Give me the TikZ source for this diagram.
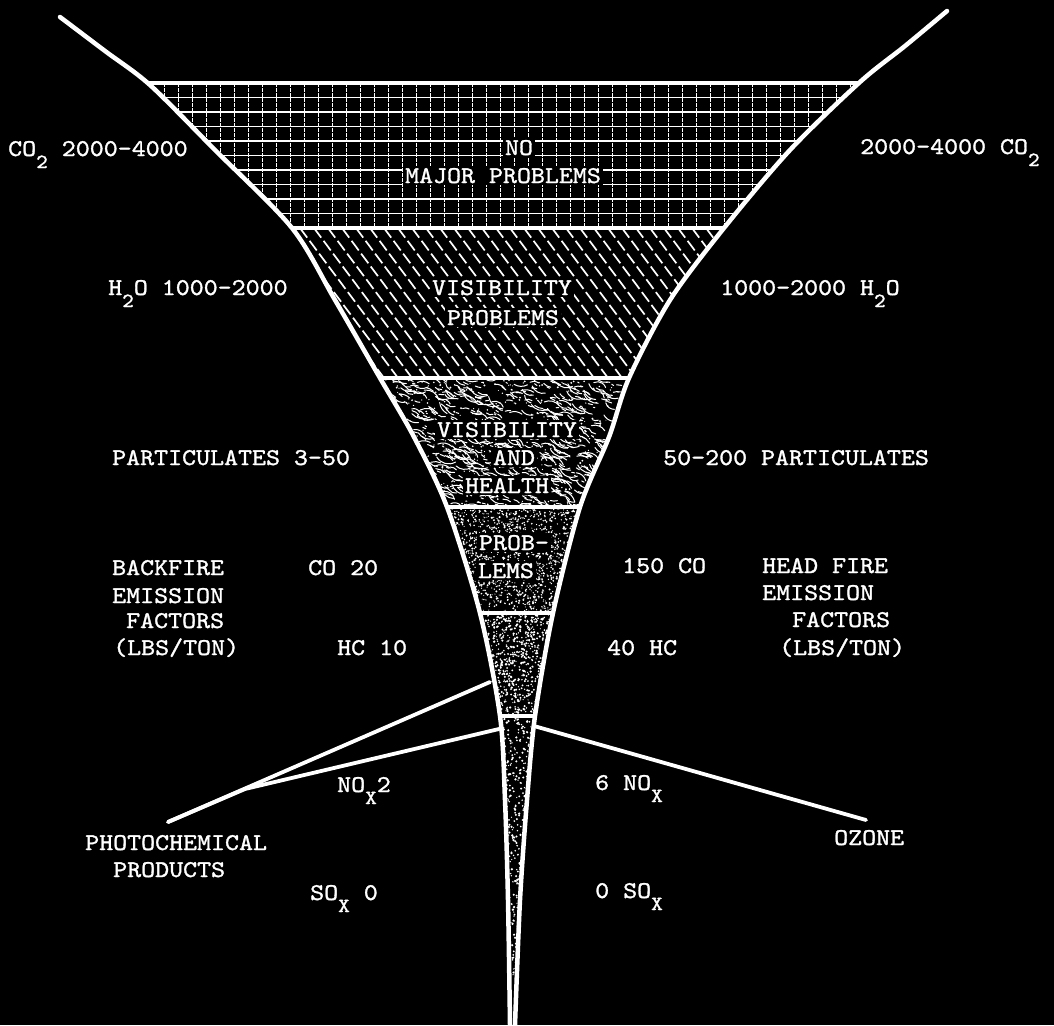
\documentclass[tikz,border=0pt]{standalone}
\usepackage{fontspec}
\setmonofont{lmmono10-regular.otf}[FakeStretch=1.11,FakeBold=1.3]
\newcommand\labfont{\ttfamily\fontsize{24}{24}\selectfont}
\newcommand\dnx[1]{\raisebox{-12pt}{\fontsize{20}{20}\selectfont #1}}
\begin{document}
\begin{tikzpicture}[x=1pt,y=-1pt,
  txt/.style={text=white,font=\labfont,inner sep=0pt,anchor=base west},
  inlab/.style={text=white,font=\labfont,fill=black,inner sep=2pt,anchor=base},
  edgeline/.style={white,line width=4.5pt,line cap=round,line join=round},
  bandline/.style={white,line width=4pt},
  conn/.style={white,line width=3.8pt,line cap=round,line join=round},
  gridh/.style={white,line width=1.7pt},
  gridv/.style={white,line width=0.8pt,dash pattern=on 4pt off 1pt},
  hatch/.style={white,line width=1.7pt,dash pattern=on 12pt off 4pt},
  squig/.style={white,line width=1pt,line cap=round},
  dot/.style={white}
]
\useasboundingbox (0,0) rectangle (1054,1025);
\fill[black] (0,0) rectangle (1054,1025);

\pgfmathsetseed{12345}
\begin{scope}
  \clip plot[smooth] coordinates {(60,17) (105,51) (150,85) (215,150) (292,228) (335,300) (380,378) (414,437) (447,507) (480,613) (500,716) (505,800) (508,900) (510,1025)}
     -- plot[smooth] coordinates {(515,1025) (520,900) (527,800) (535,716) (553,613) (580,507) (609,437) (629,378) (670,300) (724,228) (790,150) (860,82) (905,46) (947,11)} -- cycle;
  % band 1: grid
  \begin{scope}
    \clip (0,83) rectangle (1054,228);
    \foreach \y in {97.5,112,...,215} \draw[gridh] (100,\y) -- (950,\y);
    \foreach \x in {150,164,...,870} \draw[gridv] (\x,83) -- (\x,228);
  \end{scope}
  % band 2: diagonal hatching
  \begin{scope}
    \clip (0,228) rectangle (1054,378);
    \foreach \x in {160,174,...,740} \draw[hatch] (\x,228) -- ++(112,150);
  \end{scope}
  % band 3: squiggle texture
  \begin{scope}
    \clip (0,378) rectangle (1054,507);
    \foreach \i in {1,...,420}
      \draw[squig] ({375+260*rnd},{378+130*rnd}) arc[start angle={60+60*rnd}, delta angle={25+35*rnd}, radius={6+9*rnd}];
    \foreach \i in {1,...,420}
      \draw[squig] ({375+260*rnd},{378+130*rnd}) arc[start angle={240+60*rnd}, delta angle={25+35*rnd}, radius={6+9*rnd}];
    \foreach \i in {1,...,500}
      \fill[dot] ({375+260*rnd},{378+130*rnd}) circle[radius={0.5+0.6*rnd}];
  \end{scope}
  % band 4: stipple
  \begin{scope}
    \clip (0,507) rectangle (1054,613);
    \foreach \i in {1,...,1600}
      \fill[dot] ({445+137*rnd},{507+106*rnd}) circle[radius={0.5+0.6*rnd}];
  \end{scope}
  % band 5: stipple
  \begin{scope}
    \clip (0,613) rectangle (1054,716);
    \foreach \i in {1,...,850}
      \fill[dot] ({478+78*rnd},{613+103*rnd}) circle[radius={0.6+0.7*rnd}];
  \end{scope}
  % band 6: stipple
  \begin{scope}
    \clip (0,716) rectangle (1054,1025);
    \foreach \i in {1,...,700}
      \fill[dot] ({497+40*rnd},{716+270*rnd}) circle[radius={0.6+0.7*rnd}];
  \end{scope}
  % band boundary lines
  \foreach \y in {83,228,378,507,613,716} \draw[bandline] (0,\y) -- (1054,\y);
\end{scope}

% funnel edges
\draw[edgeline] plot[smooth] coordinates {(60,17) (105,51) (150,85) (215,150) (292,228) (335,300) (380,378) (414,437) (447,507) (480,613) (500,716) (505,800) (508,900) (510,1025)};
\draw[edgeline] plot[smooth] coordinates {(947,11) (905,46) (860,82) (790,150) (724,228) (670,300) (629,378) (609,437) (580,507) (553,613) (535,716) (527,800) (520,900) (515,1025)};

% connectors
\coordinate (pcapex) at (168,822);
\coordinate (pcmerge) at (245,789);
\coordinate (pcup) at (490,682);
\coordinate (pclow) at (499,729);
\coordinate (ozstart) at (534,726);
\coordinate (ozend) at (866,820);
\draw[conn] (pcup) -- (pcapex);
\draw[conn] (pclow) -- (pcmerge) -- (pcapex);
\draw[conn] (ozstart) -- (ozend);

% labels inside funnel
\node[inlab] (no) at (519,155) {NO};
\node[inlab] (major) at (503,183) {MAJOR PROBLEMS};
\node[inlab] (vis1) at (502,295) {VISIBILITY};
\node[inlab] (prob1) at (503,325) {PROBLEMS};
\node[inlab] (vis2) at (507,437) {VISIBILITY};
\node[inlab] (and) at (514,465) {AND};
\node[inlab] (health) at (507,493) {HEALTH};
\node[inlab] (probb) at (514,550) {PROB-};
\node[inlab] (lems) at (506,578) {LEMS};

% outer labels
\node[txt] (co2l) at (8,156) {CO\dnx{2} 2000-4000};
\node[txt] (co2r) at (860,154) {2000-4000 CO\dnx{2}};
\node[txt] (h2ol) at (108,295) {H\dnx{2}O 1000-2000};
\node[txt] (h2or) at (720,295) {1000-2000 H\dnx{2}O};
\node[txt] (partl) at (112,465) {PARTICULATES 3-50};
\node[txt] (partr) at (663,465) {50-200 PARTICULATES};
\node[txt] (bf1) at (112,575) {BACKFIRE};
\node[txt] (bf2) at (112,603) {EMISSION};
\node[txt] (bf3) at (126,628) {FACTORS};
\node[txt] (bf4) at (113,655) {(LBS/TON)};
\node[txt] (col) at (308,575) {CO 20};
\node[txt] (hcl) at (337,655) {HC 10};
\node[txt] (cor) at (622,573) {150 CO};
\node[txt] (hf1) at (762,573) {HEAD FIRE};
\node[txt] (hf2) at (762,600) {EMISSION};
\node[txt] (hf3) at (792,627) {FACTORS};
\node[txt] (hf4) at (779,655) {(LBS/TON)};
\node[txt] (hcr) at (607,655) {40 HC};
\node[txt] (noxl) at (337,792) {NO\dnx{X}2};
\node[txt] (noxr) at (595,790) {6 NO\dnx{X}};
\node[txt] (pc1) at (85,850) {PHOTOCHEMICAL};
\node[txt] (pc2) at (113,877) {PRODUCTS};
\node[txt] (oz) at (834,845) {OZONE};
\node[txt] (soxl) at (310,900) {SO\dnx{X} 0};
\node[txt] (soxr) at (595,898) {0 SO\dnx{X}};
\end{tikzpicture}
\end{document}
